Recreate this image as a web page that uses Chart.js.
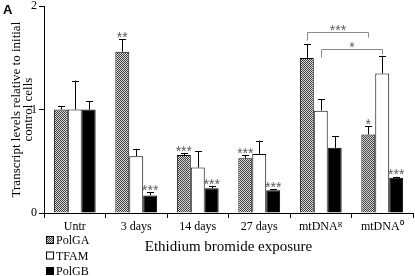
<!DOCTYPE html>
<html>
<head>
<meta charset="utf-8">
<script src="https://cdn.jsdelivr.net/npm/chart.js"></script>
<style>
  html, body { margin: 0; padding: 0; background: #fff; }
  #wrap { width: 415px; height: 276px; position: relative; }
</style>
</head>
<body>
<div id="wrap"><canvas id="chart1"></canvas></div>
<script>
// data
const categories = ["Untr", "3 days", "14 days", "27 days", "mtDNAᴿ", "mtDNA⁰"];
const seriesNames = ["PolGA", "TFAM", "PolGB"];
const polga = [1.0, 1.56, 0.56, 0.53, 1.5, 0.76];
const tfam = [1.0, 0.55, 0.44, 0.57, 0.99, 1.35];
const polgb = [1.0, 0.17, 0.24, 0.22, 0.63, 0.34];
const polgaErr = [0.03, 0.12, 0.02, 0.03, 0.13, 0.08];
const tfamErr = [0.28, 0.07, 0.16, 0.13, 0.11, 0.17];
const polgbErr = [0.08, 0.03, 0.02, 0.01, 0.11, 0.01];
const polgaStars = ["", "**", "***", "***", "", "*"];
const tfamStars = ["", "", "", "", "", ""];
const polgbStars = ["", "***", "***", "***", "", "***"];
// brackets: [category a, category b, dataset index, height, label]
const brackets = [
  [4, 5, 0, 1.75, "***"],
  [4, 5, 1, 1.59, "*"],
];
const yTicks = [0, 1, 2];

// checkered fill for PolGA
function makePattern() {
  var c = document.createElement("canvas");
  c.width = 2;
  c.height = 2;
  var g = c.getContext("2d");
  g.fillStyle = "#d8d8d8";
  g.fillRect(0, 0, 2, 2);
  g.fillStyle = "#404040";
  g.fillRect(0, 0, 1, 1);
  g.fillRect(1, 1, 1, 1);
  return g.createPattern(c, "repeat");
}
var ctx = document.getElementById("chart1").getContext("2d");
var hatch = makePattern();
var fills = [hatch, "#ffffff", "#000000"];
var errs = [polgaErr, tfamErr, polgbErr];
var stars = [polgaStars, tfamStars, polgbStars];
var serif = "'Liberation Serif', 'Times New Roman', serif";
var starFont = "14px 'Liberation Sans', Arial, sans-serif";

var extras = {
  id: "extras",
  afterDatasetsDraw(chart) {
    var c = chart.ctx;
    var y = chart.scales.y;
    c.save();
    // error bars (upper only)
    chart.data.datasets.forEach(function (ds, i) {
      var meta = chart.getDatasetMeta(i);
      meta.data.forEach(function (bar, j) {
        var top = y.getPixelForValue(ds.data[j] + errs[i][j]);
        var bx = Math.round(bar.x) + 0.5;
        c.strokeStyle = "#000";
        c.lineWidth = 1;
        c.beginPath();
        c.moveTo(bx, bar.y);
        c.lineTo(bx, top);
        c.moveTo(bx - 3.5, Math.round(top) + 0.5);
        c.lineTo(bx + 3.5, Math.round(top) + 0.5);
        c.stroke();
        if (stars[i][j]) {
          c.fillStyle = "#5a5a5a";
          c.font = starFont;
          c.textAlign = "center";
          c.textBaseline = "alphabetic";
          c.fillText(stars[i][j], bar.x, top + 2.5);
        }
      });
    });
    // comparison brackets
    brackets.forEach(function (b) {
      var meta = chart.getDatasetMeta(b[2]);
      var x1 = Math.round(meta.data[b[0]].x) + 0.5;
      var x2 = Math.round(meta.data[b[1]].x) + 0.5;
      var by = Math.round(y.getPixelForValue(b[3])) + 0.5;
      c.strokeStyle = "#888";
      c.lineWidth = 1;
      c.beginPath();
      c.moveTo(x1, by + 8);
      c.lineTo(x1, by);
      c.lineTo(x2, by);
      c.lineTo(x2, by + 5);
      c.stroke();
      c.fillStyle = "#5a5a5a";
      c.font = starFont;
      c.textAlign = "center";
      c.textBaseline = "alphabetic";
      c.fillText(b[4], (x1 + x2) / 2, by + 2);
    });
    // panel letter
    c.fillStyle = "#000";
    c.font = "bold 13px 'Liberation Sans', Arial, sans-serif";
    c.textAlign = "left";
    c.fillText("A", 3, 14);
    // legend
    c.font = "12px " + serif;
    c.textBaseline = "middle";
    chart.data.datasets.forEach(function (ds, i) {
      var ly = 240 + i * 15.5;
      c.fillStyle = ds.backgroundColor;
      c.fillRect(46, ly - 4, 8, 8);
      c.strokeStyle = "#000";
      c.strokeRect(46.5, ly - 3.5, 7, 7);
      c.fillStyle = "#000";
      c.fillText(ds.label, 56, ly + 1);
    });
    c.restore();
  },
};

var chart = new Chart(ctx, {
  type: "bar",
  data: {
    labels: categories,
    datasets: [
      { label: seriesNames[0], data: polga, backgroundColor: fills[0] },
      { label: seriesNames[1], data: tfam, backgroundColor: fills[1] },
      { label: seriesNames[2], data: polgb, backgroundColor: fills[2] },
    ].map(function (d) {
      d.borderColor = "#000";
      d.borderWidth = 1;
      d.borderSkipped = "bottom";
      d.categoryPercentage = 0.68;
      d.barPercentage = 1.0;
      return d;
    }),
  },
  options: {
    responsive: true,
    maintainAspectRatio: false,
    animation: false,
    layout: { padding: { top: 4, right: 2, left: 0, bottom: 0 } },
    plugins: {
      legend: { display: false },
      tooltip: { enabled: false },
    },
    scales: {
      x: {
        grid: { drawOnChartArea: false, drawTicks: true, tickLength: 5, color: "#000" },
        border: { display: true, color: "#000" },
        ticks: {
          color: "#000",
          padding: 2,
          font: { family: serif, size: 12 },
        },
        title: {
          display: true,
          text: "Ethidium bromide exposure",
          color: "#000",
          font: { family: serif, size: 15 },
          padding: { top: 0, bottom: 20 },
        },
        afterFit(scale) { scale.height = 63; },
      },
      y: {
        min: 0,
        max: 2,
        afterBuildTicks(scale) { scale.ticks = yTicks.map(function (v) { return { value: v }; }); },
        grid: { drawOnChartArea: false, drawTicks: true, tickLength: 5, color: "#000" },
        border: { display: true, color: "#000" },
        ticks: {
          color: "#000",
          padding: 2,
          font: { family: serif, size: 12, lineHeight: 0.7 },
        },
        title: {
          display: true,
          text: ["Transcript levels relative to initial", "control cells"],
          color: "#000",
          font: { family: serif, size: 13, lineHeight: 0.95 },
          padding: { top: 10, bottom: 0 },
        },
        afterFit(scale) { scale.width = 44; },
      },
    },
  },
  plugins: [extras],
});
</script>
</body>
</html>
